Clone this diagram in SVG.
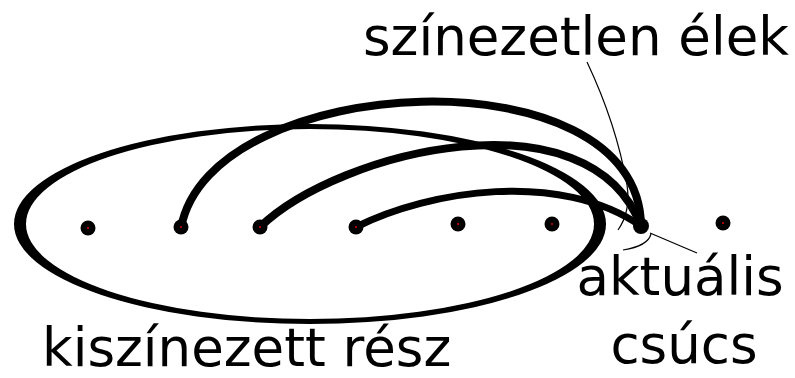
<svg xmlns="http://www.w3.org/2000/svg" width="795" height="378" viewBox="0 0 795 378">
<style>
.lbl{font-family:"DejaVu Sans",sans-serif;font-size:53px;fill:#000}
.edge{fill:none;stroke:#000;stroke-linecap:round}
.thin{fill:none;stroke:#000;stroke-width:1.2}
.node circle.v{fill:#000}
.node circle.c{fill:#e00000}
</style>
<rect width="795" height="378" fill="#fff"/>
<g id="region">
<path fill="#000" fill-rule="evenodd" d="M14,224 A296,100 0 1 0 606,224 A296,100 0 1 0 14,224 Z M26,224 A284,95 0 1 0 594,224 A284,95 0 1 0 26,224 Z"/>
</g>
<g id="connectors">
<path class="edge" stroke-width="8" d="M181,228 C210,70 640,50 641,226"/>
<path class="edge" stroke-width="8" d="M260,227 C340,150 590,90 641,226"/>
<path class="edge" stroke-width="7" d="M356,227 C430,190 560,170 641,226"/>
<path class="thin" d="M587,62 C605,100 620,145 627,185 C630,205 625,220 618,230"/>
<path class="thin" d="M623,250 Q648,246 651,234"/>
<path class="thin" d="M697,253 L650,233"/>
</g>
<g id="n1" class="node"><circle class="v" cx="88" cy="228" r="7.5"/><circle class="c" cx="88" cy="228" r="1"/></g>
<g id="n2" class="node"><circle class="v" cx="181" cy="227" r="7.5"/><circle class="c" cx="181" cy="227" r="1"/></g>
<g id="n3" class="node"><circle class="v" cx="260" cy="227" r="7.5"/><circle class="c" cx="260" cy="227" r="1"/></g>
<g id="n4" class="node"><circle class="v" cx="356" cy="227" r="7.5"/><circle class="c" cx="356" cy="227" r="1"/></g>
<g id="n5" class="node"><circle class="v" cx="458" cy="224" r="7.5"/><circle class="c" cx="458" cy="224" r="1"/></g>
<g id="n6" class="node"><circle class="v" cx="552" cy="224" r="7.5"/><circle class="c" cx="552" cy="224" r="1"/></g>
<g id="n7" class="node"><circle class="v" cx="641" cy="226" r="8"/></g>
<g id="n8" class="node"><circle class="v" cx="723" cy="223" r="7.5"/><circle class="c" cx="723" cy="223" r="1"/></g>
<g id="labels">
<text class="lbl" x="363" y="55">színezetlen élek</text>
<text class="lbl" x="42" y="366">kiszínezett rész</text>
<text class="lbl" x="680" y="295" text-anchor="middle">aktuális</text>
<text class="lbl" x="684" y="363" text-anchor="middle">csúcs</text>
</g>
</svg>
